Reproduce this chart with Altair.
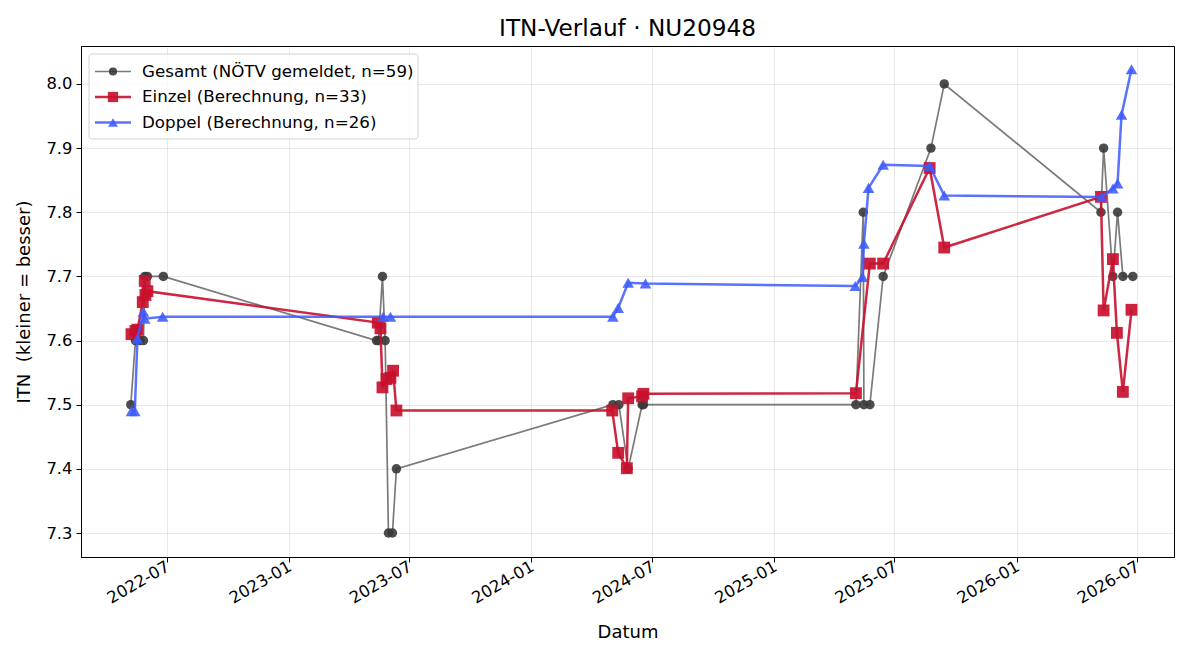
import altair as alt
import pandas as pd

# ITN history for player NU20948
gesamt_dates = [
    "2022-05-08", "2022-05-15", "2022-05-22", "2022-05-27", "2022-05-29", "2022-06-02", "2022-06-26",
    "2023-05-13", "2023-05-16", "2023-05-22", "2023-05-26", "2023-05-31", "2023-06-06", "2023-06-12",
    "2024-05-03", "2024-05-12", "2024-05-26", "2024-06-16", "2024-06-18",
    "2025-05-04", "2025-05-15", "2025-05-16", "2025-05-25", "2025-06-14", "2025-08-25", "2025-09-14",
    "2026-05-08", "2026-05-12", "2026-05-26", "2026-06-02", "2026-06-10", "2026-06-25",
]
gesamt_itn = [
    7.5, 7.6, 7.6, 7.6, 7.7, 7.7, 7.7,
    7.6, 7.6, 7.7, 7.6, 7.3, 7.3, 7.4,
    7.5, 7.5, 7.4, 7.5, 7.5,
    7.5, 7.8, 7.5, 7.5, 7.7, 7.9, 8.0,
    7.8, 7.9, 7.7, 7.8, 7.7, 7.7,
]

einzel_dates = [
    "2022-05-09", "2022-05-15", "2022-05-18", "2022-05-26", "2022-05-29", "2022-05-30", "2022-06-02",
    "2023-05-15", "2023-05-19", "2023-05-22", "2023-05-28", "2023-06-03", "2023-06-07", "2023-06-12",
    "2024-05-02", "2024-05-11", "2024-05-24", "2024-05-26", "2024-06-16", "2024-06-18",
    "2025-05-04", "2025-05-25", "2025-06-14", "2025-08-23", "2025-09-14",
    "2026-05-08", "2026-05-12", "2026-05-26", "2026-06-01", "2026-06-10", "2026-06-23",
]
einzel_itn = [
    7.610, 7.615, 7.617, 7.660, 7.693, 7.671, 7.677,
    7.628, 7.619, 7.527, 7.540, 7.542, 7.553, 7.491,
    7.491, 7.425, 7.401, 7.510, 7.513, 7.517,
    7.518, 7.720, 7.720, 7.869, 7.745,
    7.824, 7.647, 7.727, 7.612, 7.520, 7.648,
]

doppel_dates = [
    "2022-05-09", "2022-05-14", "2022-05-18", "2022-05-27", "2022-05-29", "2022-06-25",
    "2023-05-23", "2023-06-03",
    "2024-05-03", "2024-05-11", "2024-05-26", "2024-06-21",
    "2025-05-03", "2025-05-14", "2025-05-16", "2025-05-23", "2025-06-14", "2025-08-23", "2025-09-14",
    "2026-05-09", "2026-05-26", "2026-06-02", "2026-06-08", "2026-06-23",
]
doppel_itn = [
    7.490, 7.490, 7.603, 7.645, 7.634, 7.637,
    7.637, 7.637,
    7.637, 7.651, 7.690, 7.689,
    7.685, 7.699, 7.751, 7.838, 7.874, 7.872, 7.826,
    7.824, 7.837, 7.845, 7.952, 8.023,
]

series_labels = [
    "Gesamt (NÖTV gemeldet, n=59)",
    "Einzel (Berechnung, n=33)",
    "Doppel (Berechnung, n=26)",
]
tick_months = [(2022, 7), (2023, 1), (2023, 7), (2024, 1), (2024, 7),
               (2025, 1), (2025, 7), (2026, 1), (2026, 7)]
y_ticks = [7.3, 7.4, 7.5, 7.6, 7.7, 7.8, 7.9, 8.0]

FONT = "DejaVu Sans"
GRAY, RED, BLUE = "#333333", "#C8102E", "#3D5AFE"

W, H = 1093, 511

x_enc = alt.X(
    "date:T",
    title="Datum",
    scale=alt.Scale(domain=[alt.DateTime(year=2022, month=2, date=22),
                            alt.DateTime(year=2026, month=8, date=26)]),
    axis=alt.Axis(
        values=[alt.DateTime(year=y, month=m, date=1) for y, m in tick_months],
        format="%Y-%m", labelAngle=-30, labelAlign="right", labelBaseline="top",
        labelPadding=-4, labelOffset=-3, tickSize=5, titlePadding=17,
    ),
)
y_enc = alt.Y(
    "itn:Q",
    title="ITN \u00a0(kleiner = besser)",
    scale=alt.Scale(domain=[7.2626, 8.0592], nice=False, zero=False),
    axis=alt.Axis(values=y_ticks, format=".1f", tickSize=5, labelPadding=4, titlePadding=12),
)


def frame(dates, values):
    return pd.DataFrame({"date": dates, "itn": values})


def series(df, color, line_w, line_op, shape, size, pt_color, pt_op):
    base = alt.Chart(df).encode(x=x_enc, y=y_enc)
    line = base.mark_line(color=color, strokeWidth=line_w, opacity=line_op)
    pts = base.mark_point(shape=shape, filled=True, size=size, color=pt_color,
                          opacity=pt_op, strokeWidth=0)
    return line + pts


STYLES = [
    (GRAY, 1.7, 0.65, "circle", 90, "#3a3a3a", 0.9),
    (RED, 2.5, 0.9, "square", 140, RED, 0.92),
    (BLUE, 2.5, 0.85, "triangle-up", 135, BLUE, 0.88),
]

gesamt = series(frame(gesamt_dates, gesamt_itn), *STYLES[0])
einzel = series(frame(einzel_dates, einzel_itn), *STYLES[1])
doppel = series(frame(doppel_dates, doppel_itn), *STYLES[2])

# Legend box in the upper-left corner of the plot area
one = pd.DataFrame({"k": [0]})
legend_layers = [
    alt.Chart(one).mark_rect(fill="white", stroke="#cccccc", strokeWidth=1,
                             cornerRadius=3, opacity=0.85).encode(
        x=alt.value(8), x2=alt.value(337), y=alt.value(8), y2=alt.value(93)),
]
for i, (label, st) in enumerate(zip(series_labels, STYLES)):
    ly = 25.5 + i * 25.5
    c, lw, lo, shp, sz, pc, po = st
    legend_layers.append(alt.Chart(one).mark_rule(color=c, strokeWidth=lw, opacity=lo).encode(
        x=alt.value(14), x2=alt.value(50), y=alt.value(ly)))
    legend_layers.append(alt.Chart(one).mark_point(shape=shp, filled=True, size=sz * 0.75, color=pc,
                                                   opacity=po, strokeWidth=0).encode(
        x=alt.value(32), y=alt.value(ly)))
    legend_layers.append(alt.Chart(one).mark_text(text=label, align="left", baseline="middle",
                                                  font=FONT, fontSize=16.7, color="black").encode(
        x=alt.value(61), y=alt.value(ly)))

chart = alt.layer(gesamt, einzel, doppel, *legend_layers).properties(
    width=W, height=H,
    title=alt.TitleParams("ITN-Verlauf · NU20948", font=FONT, fontSize=23.2,
                          fontWeight="normal", color="black", offset=5, anchor="middle"),
    autosize=alt.AutoSizeParams(type="none"),
    padding={"left": 81, "top": 46, "right": 26, "bottom": 103},
).configure(
    background="white",
).configure_view(
    stroke="black", strokeWidth=1,
).configure_axis(
    labelFont=FONT, titleFont=FONT, labelFontSize=16.4, titleFontSize=18,
    labelColor="black", titleColor="black", titleFontWeight="normal",
    domainColor="black", domainWidth=1, tickColor="black", tickWidth=1,
    gridColor="#b0b0b0", gridOpacity=0.35, gridWidth=0.8,
)

chart.save("out.html", embed_options={"renderer": "svg", "actions": False})
